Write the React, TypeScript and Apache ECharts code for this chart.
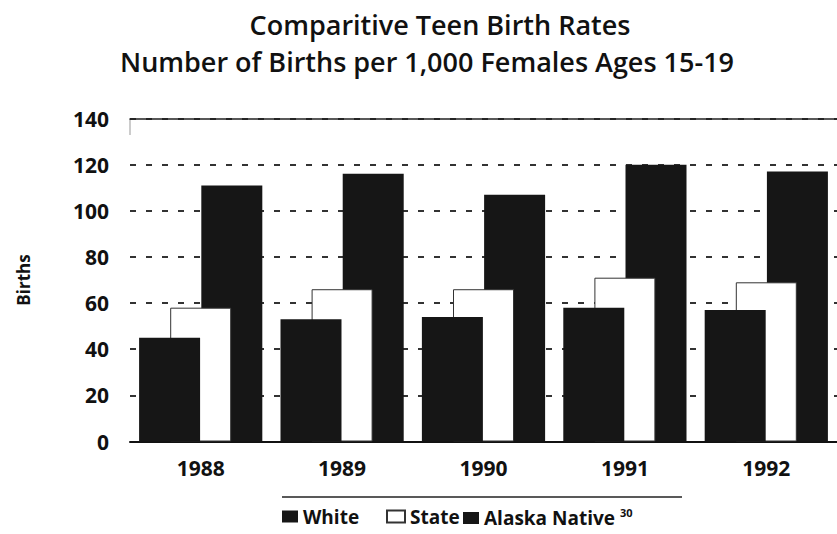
import React, { useEffect, useRef } from "react";
import * as echarts from "echarts";

const years = ["1988", "1989", "1990", "1991", "1992"];
const whiteRates = [45, 53, 54, 58, 57];
const stateRates = [58, 66, 66, 71, 69];
const alaskaNativeRates = [111, 116, 107, 120, 117];
const yTicks = [0, 20, 40, 60, 80, 100, 120, 140];

const titleLine1 = "Comparitive Teen Birth Rates";
const titleLine2 = "Number of Births per 1,000 Females Ages 15-19";

const FONT = "'Open Sans', 'Noto Sans', sans-serif";
const DARK = "#161616";

export default function App() {
  const ref = useRef<HTMLDivElement>(null);
  useEffect(() => {
    if (!ref.current) return;
    const chart = echarts.init(ref.current, null, { renderer: "svg" });
    const legendText = { fontFamily: FONT, fontSize: 19, fontWeight: "bold", color: "#111" };
    const titleText = { fontFamily: FONT, fontSize: 27, fontWeight: 600, color: "#111", lineHeight: 37 };
    chart.setOption({
      animation: false,
      backgroundColor: "#fff",
      title: [
        { text: titleLine1, left: 440, top: 5.5, textAlign: "center", padding: 0, textStyle: titleText },
        { text: titleLine2, left: 427, top: 43, textAlign: "center", padding: 0, textStyle: titleText },
      ],
      grid: { left: 130, top: 118.5, width: 713, bottom: 92.5, containLabel: false },
      legend: [
        {
          data: ["White"], left: 282, top: 507, padding: 0, icon: "rect",
          itemWidth: 16, itemHeight: 12, textStyle: legendText,
        },
        {
          data: ["State"], left: 386, top: 507, padding: 0, icon: "rect",
          itemWidth: 18, itemHeight: 12, textStyle: legendText,
        },
        {
          data: ["Alaska Native"], left: 463, top: 507, padding: 0, icon: "rect",
          itemWidth: 16, itemHeight: 12,
          formatter: (name: string) => `{a|${name}} {s|30}`,
          textStyle: {
            ...legendText,
            rich: {
              a: { fontFamily: FONT, fontSize: 19, fontWeight: "bold", color: "#111", lineHeight: 22 },
              s: { fontFamily: FONT, fontSize: 11, fontWeight: "bold", color: "#111", verticalAlign: "top", lineHeight: 12 },
            },
          },
        },
      ],
      xAxis: [
        {
          type: "category",
          data: years,
          axisLine: { show: true, lineStyle: { color: "#111", width: 2 } },
          axisTick: { show: false },
          axisLabel: { margin: 16, fontFamily: FONT, fontSize: 21, fontWeight: "bold", color: "#111" },
          splitLine: { show: false },
        },
        {
          type: "category",
          data: years,
          position: "top",
          axisLine: { show: true, lineStyle: { color: "#222", width: 1.5 } },
          axisTick: { show: false },
          axisLabel: { show: false },
        },
      ],
      yAxis: {
        type: "value",
        min: yTicks[0],
        max: yTicks[yTicks.length - 1],
        interval: 20,
        name: "Births",
        nameLocation: "middle",
        nameRotate: 90,
        nameGap: 98,
        nameTextStyle: { fontFamily: FONT, fontSize: 17, fontWeight: "bold", color: "#111" },
        axisLine: { show: false },
        axisTick: { show: false },
        axisLabel: { margin: 21, fontFamily: FONT, fontSize: 21, fontWeight: "bold", color: "#111" },
        splitLine: { show: true, lineStyle: { color: "#333", width: 2, type: [6, 10] } },
      },
      series: [
        {
          name: "White",
          type: "bar",
          data: whiteRates,
          barWidth: 61,
          barGap: "-49%",
          z: 4,
          itemStyle: { color: DARK },
        },
        {
          name: "State",
          type: "bar",
          data: stateRates,
          barWidth: 61,
          barGap: "-49%",
          z: 3,
          itemStyle: { color: "#fff", borderColor: "#333", borderWidth: 1 },
        },
        {
          name: "Alaska Native",
          type: "bar",
          data: alaskaNativeRates,
          barWidth: 61,
          barGap: "-49%",
          z: 2,
          itemStyle: { color: DARK },
        },
      ],
      graphic: [
        {
          type: "line",
          shape: { x1: 282, y1: 497, x2: 682, y2: 497 },
          style: { stroke: "#222", lineWidth: 1.5 },
        },
        {
          type: "line",
          shape: { x1: 130, y1: 119, x2: 130, y2: 135 },
          style: { stroke: "#999", lineWidth: 1 },
        },
      ],
    });
    return () => chart.dispose();
  }, []);
  return (
    <div
      ref={ref}
      style={{ position: "absolute", left: 0, top: 0, width: 837, height: 534, background: "#fff" }}
    />
  );
}
